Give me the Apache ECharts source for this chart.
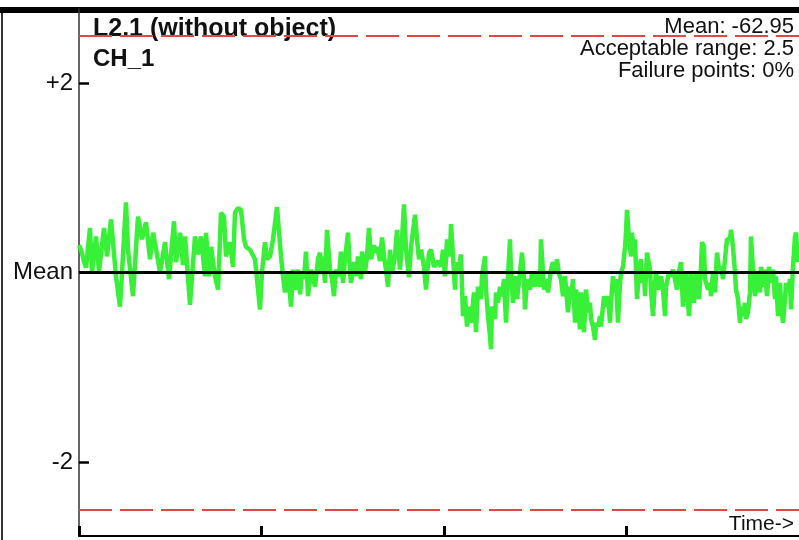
<html>
<head>
<meta charset="utf-8">
<title>CH_1</title>
<script src="https://cdn.jsdelivr.net/npm/echarts@6/dist/echarts.min.js"></script>
<style>
  body { margin: 0; background: #fff; }
  #main { width: 799px; height: 540px; }
</style>
</head>
<body>
<div id="main"></div>
<script type="text/javascript">
// time (samples) and deviation from mean
var times = [
  0, 2, 5, 7, 11, 13, 17, 20, 25, 28, 32, 37, 41, 43, 47, 49, 54, 59, 63, 67,
  71, 74, 78, 81, 86, 90, 95, 97, 101, 104, 106, 111, 116, 119, 122, 126, 127, 130, 132, 136,
  139, 142, 145, 147, 151, 154, 156, 159, 162, 165, 167, 171, 176, 178, 181, 183, 186, 188, 191, 194,
  198, 202, 204, 206, 209, 212, 214, 216, 219, 221, 223, 225, 227, 229, 232, 236, 239, 241, 242, 244,
  246, 248, 251, 253, 255, 257, 260, 262, 264, 266, 269, 271, 272, 275, 277, 279, 282, 283, 286, 288,
  290, 292, 295, 296, 298, 301, 303, 305, 307, 309, 311, 313, 316, 318, 321, 322, 325, 327, 330, 332,
  336, 338, 340, 342, 345, 347, 350, 352, 355, 359, 362, 364, 366, 368, 371, 372, 374, 376, 377, 379,
  382, 384, 386, 388, 391, 392, 395, 397, 399, 402, 403, 406, 407, 409, 411, 412, 413, 416, 417, 419,
  421, 423, 425, 427, 429, 431, 432, 434, 436, 438, 441, 443, 445, 446, 448, 451, 453, 456, 458, 461,
  462, 465, 467, 469, 472, 474, 476, 478, 480, 482, 484, 486, 489, 491, 492, 494, 496, 497, 499, 501,
  502, 505, 507, 509, 511, 512, 514, 516, 517, 519, 521, 522, 525, 527, 529, 531, 532, 534, 536, 537,
  539, 541, 542, 544, 546, 547, 548, 550, 552, 553, 555, 556, 558, 560, 562, 563, 565, 566, 568, 571,
  572, 574, 576, 577, 579, 582, 584, 586, 587, 590, 592, 594, 596, 598, 600, 602, 604, 607, 610, 612,
  613, 615, 617, 620, 622, 623, 625, 626, 629, 631, 632, 634, 636, 638, 640, 642, 644, 646, 648, 651,
  652, 654, 656, 657, 659, 661, 662, 664, 666, 667, 669, 671, 672, 674, 676, 677, 679, 681, 682, 685,
  686, 688, 690, 692, 694, 696, 697, 699, 701, 702, 704, 706, 707, 709, 711, 712, 714, 716, 717, 719
];
var values = [
  0.29, 0.24, 0.12, 0.05, 0.47, 0, 0.38, 0.01, 0.47, 0.17, 0.56, -0.04, -0.36, 0, 0.74, 0.24, -0.25, 0.59, 0.35, 0.53,
  0.14, 0.42, 0.19, 0, 0.32, -0.07, 0.54, 0.11, 0.42, 0.08, 0.38, -0.34, 0.38, 0.19, 0.38, -0.04, 0.42, -0.04, 0.27, -0.04,
  -0.18, 0.63, 0.59, 0.17, 0.32, 0.06, 0.63, 0.68, 0.66, 0.35, 0.27, 0.24, 0.14, -0.07, -0.39, 0, 0.32, 0.14, 0.17, 0.35,
  0.69, 0.17, -0.04, -0.21, 0.01, -0.36, 0.03, -0.18, 0.03, -0.23, 0, -0.07, 0.22, -0.25, 0.03, -0.15, 0.14, 0.21, 0, 0.17,
  -0.11, 0.45, 0.03, -0.07, -0.25, 0.03, -0.04, 0.22, -0.11, 0.14, 0.42, 0, -0.11, 0.11, -0.04, 0.17, -0.07, 0.22, 0, 0.17,
  0.47, 0.14, 0.29, 0.21, 0.27, 0.12, 0.37, 0.17, 0.03, -0.15, 0.24, 0, 0.17, 0.45, 0.03, 0.17, 0.72, 0.24, -0.05, 0.27,
  0.61, 0.35, 0.14, 0.24, 0.06, -0.18, 0.21, 0.24, 0.06, 0.12, 0.06, 0.24, -0.04, 0.35, 0.17, 0.51, 0.17, -0.18, 0.11, 0,
  0.19, -0.46, -0.25, -0.57, -0.36, -0.53, -0.21, -0.63, -0.15, -0.28, -0.04, 0.17, -0.18, -0.46, -0.67, -0.81, -0.36, -0.49, -0.21, -0.32,
  -0.15, -0.25, -0.07, -0.53, -0.04, 0.35, 0, -0.32, -0.04, -0.28, 0, 0.21, -0.07, -0.39, -0.07, -0.18, 0, -0.15, -0.02, -0.15,
  0.35, -0.18, -0.07, -0.21, 0.03, 0.11, 0, 0.14, -0.02, -0.07, -0.25, -0.04, -0.42, -0.15, -0.28, -0.07, -0.53, -0.18, -0.32, -0.6,
  -0.21, -0.63, -0.18, -0.42, -0.32, -0.49, -0.57, -0.71, -0.53, -0.57, -0.46, -0.57, -0.25, -0.36, -0.25, -0.53, -0.32, -0.04, -0.21, -0.07,
  -0.53, -0.11, 0, 0.06, 0.27, 0.42, 0.66, 0.35, 0.17, 0.42, 0.17, 0.35, -0.28, 0.03, 0.14, -0.11, 0.03, -0.25, 0.21, 0.03,
  -0.18, -0.46, -0.11, 0, -0.18, -0.04, -0.18, -0.46, -0.15, 0, -0.04, 0.03, -0.07, -0.18, 0, 0.11, -0.36, 0, -0.46, 0,
  -0.18, -0.32, 0, -0.28, 0.06, 0.32, 0.27, -0.07, -0.18, -0.11, -0.25, 0, -0.21, 0.21, 0.03, 0.06, -0.07, 0.14, 0.35, 0.35,
  0.45, 0.27, 0, -0.18, -0.28, -0.53, -0.36, -0.46, -0.32, -0.49, -0.42, -0.21, 0.38, 0.03, -0.25, -0.15, 0, -0.21, 0.06, -0.15,
  0.03, -0.25, 0.06, -0.11, 0.03, -0.28, -0.04, -0.46, -0.11, -0.32, -0.53, -0.28, -0.11, -0.21, -0.07, -0.39, 0.06, 0.38, 0.42, 0.11
];

var yTicks = [-2, 0, 2];
var yTickNames = ['-2', 'Mean', '+2'];
var limit = 2.5;

var titleText = 'L2.1 (without object)';
var channel = 'CH_1';
var stats = ['Mean: -62.95', 'Acceptable range: 2.5', 'Failure points: 0%'];

var font = '"Liberation Sans", Arial, sans-serif';

var trace = [];
for (var i = 0; i < times.length; i++) {
    trace.push([times[i], values[i]]);
}

var myChart = echarts.init(document.getElementById('main'));

var option = {
    animation: false,
    backgroundColor: '#fff',
    // plot runs past the right edge of the picture
    grid: { left: 79, top: 9, width: 730, height: 527, outerBoundsMode: 'none', containLabel: false },
    xAxis: {
        type: 'value',
        min: 0,
        max: 730,
        interval: 182.5,
        axisLine: { onZero: false, lineStyle: { color: '#000', width: 2 } },
        axisTick: { inside: true, length: 10, lineStyle: { color: '#000', width: 3 } },
        axisLabel: { show: false },
        splitLine: { show: false }
    },
    yAxis: {
        type: 'value',
        min: -2.78,
        max: 2.78,
        axisLine: { show: true, onZero: false, lineStyle: { color: '#333', width: 1.5 } },
        axisTick: {
            inside: true, length: 10, customValues: yTicks,
            lineStyle: { color: '#000', width: 2.5 }
        },
        axisLabel: {
            customValues: yTicks,
            margin: 6,
            color: '#111',
            fontFamily: font,
            fontSize: 24,
            formatter: function (v) {
                return yTickNames[yTicks.indexOf(Math.round(v))];
            }
        },
        splitLine: { show: false }
    },
    graphic: [
        { type: 'rect', shape: { x: 0, y: 7, width: 799, height: 6 }, style: { fill: '#000' } },
        { type: 'line', shape: { x1: 2, y1: 13, x2: 2, y2: 540 }, style: { stroke: '#333', lineWidth: 2 } },
        { type: 'text', x: 93, y: 29, style: { text: titleText, font: 'bold 25px ' + font, fill: '#111', verticalAlign: 'middle' } },
        { type: 'text', x: 93, y: 59, style: { text: channel, font: 'bold 24px ' + font, fill: '#111', verticalAlign: 'middle' } },
        { type: 'text', x: 794, y: 27, style: { text: stats[0], font: '22px ' + font, fill: '#111', align: 'right', verticalAlign: 'middle' } },
        { type: 'text', x: 794, y: 49, style: { text: stats[1], font: '22px ' + font, fill: '#111', align: 'right', verticalAlign: 'middle' } },
        { type: 'text', x: 794, y: 71, style: { text: stats[2], font: '22px ' + font, fill: '#111', align: 'right', verticalAlign: 'middle' } },
        { type: 'text', x: 794, y: 524, style: { text: 'Time->', font: '21px ' + font, fill: '#111', align: 'right', verticalAlign: 'middle' } }
    ],
    series: [
        {
            name: 'limits',
            type: 'line',
            data: [],
            z: 1,
            markLine: {
                silent: true,
                symbol: ['none', 'none'],
                label: { show: false },
                data: [
                    { yAxis: 0, lineStyle: { color: '#000', width: 3, type: 'solid' } },
                    { yAxis: limit, lineStyle: { color: '#e04848', width: 2, type: [33, 8] } },
                    { yAxis: -limit, lineStyle: { color: '#e04848', width: 2, type: [33, 8] } }
                ]
            }
        },
        {
            name: channel,
            type: 'line',
            data: trace,
            z: 3,
            showSymbol: false,
            lineStyle: { color: '#38f038', width: 4.5 }
        }
    ]
};

myChart.setOption(option);
</script>
</body>
</html>
